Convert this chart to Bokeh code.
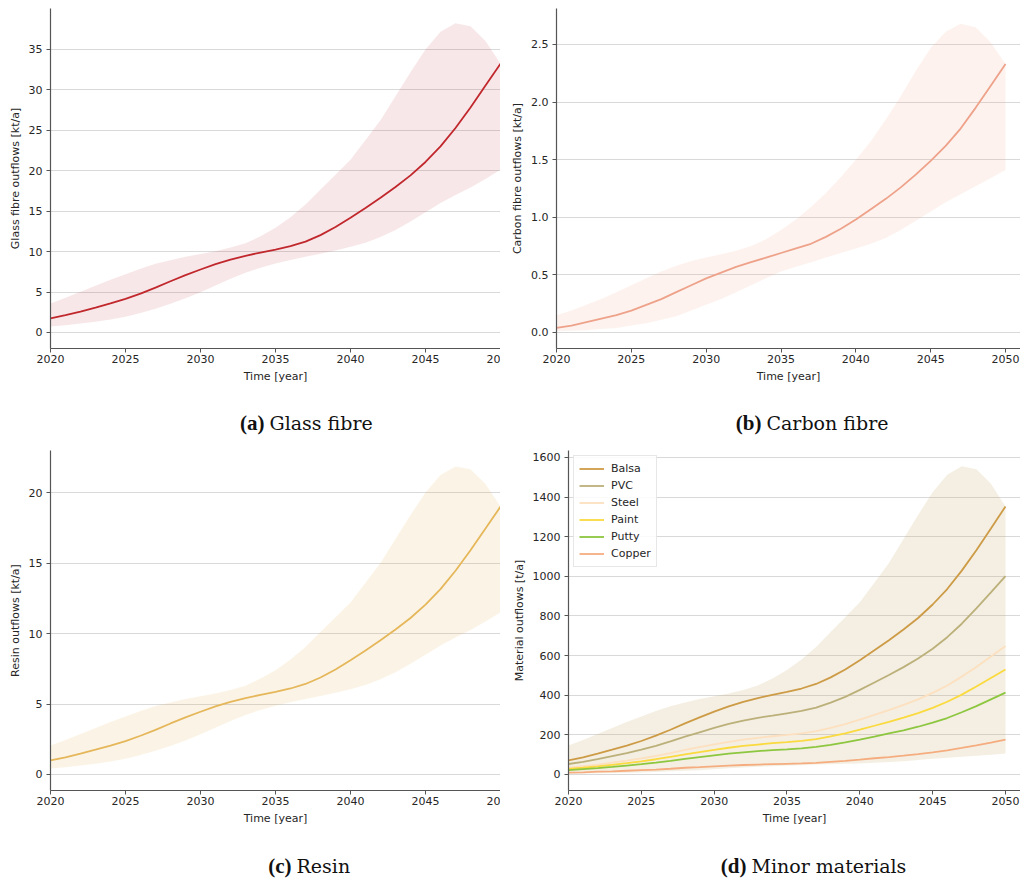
from bokeh.plotting import figure
from bokeh.layouts import column, row
from bokeh.models import Range1d, FixedTicker, PrintfTickFormatter
from bokeh.core.properties import value
from bokeh.embed import file_html
from bokeh.resources import INLINE

years = list(range(2020, 2051))
x_ticks = [2020, 2025, 2030, 2035, 2040, 2045, 2050]

# (a) Glass fibre [kt/a]
glass = [1.75, 2.14, 2.59, 3.08, 3.59, 4.15, 4.81, 5.55, 6.34, 7.09, 7.79, 8.45, 9.01, 9.49, 9.89,
         10.26, 10.68, 11.24, 12.04, 13.04, 14.18, 15.40, 16.66, 17.99, 19.43, 21.09, 23.01, 25.29,
         27.83, 30.54, 33.25]
glass_hi = [3.59, 4.29, 5.04, 5.78, 6.51, 7.21, 7.88, 8.49, 8.93, 9.36, 9.71, 10.06, 10.50, 11.03,
            11.90, 12.95, 14.26, 15.84, 17.68, 19.51, 21.35, 23.80, 26.25, 29.23, 32.20, 35.00,
            37.19, 38.24, 37.89, 36.05, 33.25]
glass_lo = [0.74, 0.91, 1.10, 1.33, 1.61, 1.96, 2.42, 2.94, 3.54, 4.24, 4.99, 5.81, 6.65, 7.39, 8.02,
            8.54, 8.96, 9.36, 9.75, 10.15, 10.59, 11.11, 11.81, 12.69, 13.74, 14.88, 16.01, 17.01,
            17.94, 18.99, 20.13]

# (b) Carbon fibre [kt/a]
carbon = [0.04, 0.06, 0.09, 0.12, 0.15, 0.19, 0.24, 0.29, 0.35, 0.41, 0.47, 0.52, 0.57, 0.61, 0.65,
          0.69, 0.73, 0.77, 0.83, 0.90, 0.98, 1.07, 1.16, 1.26, 1.37, 1.49, 1.62, 1.77, 1.95, 2.14, 2.33]
carbon_hi = [0.15, 0.19, 0.24, 0.29, 0.35, 0.41, 0.47, 0.53, 0.58, 0.62, 0.65, 0.68, 0.71, 0.75, 0.81,
             0.89, 0.98, 1.09, 1.21, 1.35, 1.50, 1.66, 1.85, 2.05, 2.27, 2.47, 2.61, 2.68, 2.65, 2.52, 2.33]
carbon_lo = [0.01, 0.015, 0.02, 0.03, 0.04, 0.06, 0.08, 0.11, 0.14, 0.19, 0.24, 0.29, 0.35, 0.41, 0.47,
             0.53, 0.57, 0.61, 0.65, 0.69, 0.73, 0.77, 0.82, 0.89, 0.97, 1.05, 1.13, 1.20, 1.27, 1.34, 1.41]

# (c) Resin [kt/a]
resin = [1.00, 1.22, 1.48, 1.76, 2.05, 2.37, 2.75, 3.17, 3.62, 4.05, 4.45, 4.83, 5.15, 5.42, 5.65,
         5.86, 6.10, 6.42, 6.88, 7.45, 8.10, 8.80, 9.52, 10.28, 11.10, 12.05, 13.15, 14.45, 15.90,
         17.45, 19.00]
resin_hi = [2.05, 2.45, 2.88, 3.30, 3.72, 4.12, 4.50, 4.85, 5.10, 5.35, 5.55, 5.75, 6.00, 6.30, 6.80,
            7.40, 8.15, 9.05, 10.10, 11.15, 12.20, 13.60, 15.00, 16.70, 18.40, 20.00, 21.25, 21.85,
            21.65, 20.60, 19.00]
resin_lo = [0.42, 0.52, 0.63, 0.76, 0.92, 1.12, 1.38, 1.68, 2.02, 2.42, 2.85, 3.32, 3.80, 4.22, 4.58,
            4.88, 5.12, 5.35, 5.57, 5.80, 6.05, 6.35, 6.75, 7.25, 7.85, 8.50, 9.15, 9.72, 10.25,
            10.85, 11.50]

# (d) Minor materials [t/a]
materials = ["Balsa", "PVC", "Steel", "Paint", "Putty", "Copper"]
balsa = [71, 87, 105, 125, 146, 169, 196, 226, 258, 288, 317, 344, 367, 386, 402, 417, 434, 457, 490,
         530, 577, 627, 678, 732, 790, 858, 936, 1029, 1132, 1242, 1353]
pvc = [53, 64, 78, 93, 108, 125, 145, 167, 191, 213, 235, 255, 272, 286, 297, 309, 321, 338, 363, 392,
       427, 464, 502, 542, 585, 635, 693, 761, 838, 919, 1001]
steel = [34, 42, 50, 60, 70, 81, 94, 108, 124, 138, 152, 165, 176, 185, 193, 200, 208, 219, 235, 254,
         277, 301, 325, 351, 379, 412, 449, 494, 543, 596, 649]
paint = [28, 34, 41, 49, 57, 66, 77, 89, 101, 113, 124, 135, 144, 151, 158, 163, 170, 179, 192, 208,
         226, 246, 266, 287, 310, 336, 367, 403, 444, 487, 530]
putty = [22, 27, 32, 38, 45, 52, 60, 69, 79, 88, 97, 105, 112, 118, 123, 127, 132, 139, 149, 162, 176,
         191, 207, 223, 241, 262, 285, 314, 345, 379, 413]
copper = [9, 11, 14, 16, 19, 22, 25, 29, 34, 37, 41, 45, 48, 50, 52, 54, 56, 59, 64, 69, 75, 82, 88,
          95, 103, 112, 122, 134, 147, 161, 176]
minor_hi = [146, 174, 205, 235, 265, 293, 320, 345, 363, 381, 395, 409, 427, 449, 484, 527, 580, 644,
            719, 794, 869, 968, 1068, 1189, 1310, 1424, 1513, 1556, 1541, 1467, 1353]
minor_lo = [4, 5, 6, 7, 9, 10, 13, 16, 19, 22, 26, 31, 35, 39, 42, 45, 47, 50, 52, 54, 56, 59, 63, 67,
            73, 79, 85, 90, 95, 100, 106]
minor_series = [balsa, pvc, steel, paint, putty, copper]
minor_colors = ["#cd9b46", "#bcb07a", "#fde0bf", "#fada3e", "#8dc63f", "#f5ad80"]

AX = "#555555"
TXT = "#262626"


def make_fig(width, height, left, top, x_end, y_range, ylabel, yticks, fmt=None, cut_last=False):
    p = figure(width=width, height=height, x_range=Range1d(2020, x_end), y_range=Range1d(*y_range),
               toolbar_location=None, output_backend="svg",
               min_border_left=left, min_border_right=0, min_border_top=top, min_border_bottom=47)
    p.outline_line_color = None
    p.background_fill_color = "white"
    p.border_fill_color = "white"
    p.xaxis.ticker = FixedTicker(ticks=x_ticks)
    p.yaxis.ticker = FixedTicker(ticks=yticks)
    if cut_last:
        p.xaxis.major_label_overrides = {2050: "20"}
    if fmt:
        p.yaxis.formatter = PrintfTickFormatter(format=fmt)
    p.xaxis.axis_label = "Time [year]"
    p.yaxis.axis_label = ylabel
    for ax in (p.xaxis, p.yaxis):
        ax.axis_line_color = AX
        ax.axis_line_width = 1.2
        ax.major_tick_line_color = AX
        ax.major_tick_out = 4
        ax.major_tick_in = 0
        ax.minor_tick_line_color = None
        ax.major_label_text_font = "DejaVu Sans"
        ax.major_label_text_font_size = "11px"
        ax.major_label_text_color = TXT
        ax.axis_label_text_font = "DejaVu Sans"
        ax.axis_label_text_font_size = "11px"
        ax.axis_label_text_font_style = "normal"
        ax.axis_label_text_color = TXT
    p.xaxis.major_label_standoff = 2
    p.xaxis.axis_label_standoff = 4
    p.yaxis.major_label_standoff = 4
    p.yaxis.axis_label_standoff = 4
    p.xgrid.visible = False
    p.ygrid.grid_line_color = "#d9d9d9"
    p.ygrid.grid_line_width = 1
    return p


fa = make_fig(500, 395, 50, 8, 2050, (-1.98, 40.07), "Glass fibre outflows [kt/a]",
              [0, 5, 10, 15, 20, 25, 30, 35], cut_last=True)
fa.varea(x=years, y1=glass_lo, y2=glass_hi, fill_color="#c0282d", fill_alpha=0.11)
fa.line(years, glass, line_color="#c0282d", line_width=1.8)

fb = make_fig(520, 395, 56, 8, 2051.0, (-0.139, 2.8125), "Carbon fibre outflows [kt/a]",
              [0, 0.5, 1.0, 1.5, 2.0, 2.5], fmt="%.1f")
fb.varea(x=years, y1=carbon_lo, y2=carbon_hi, fill_color="#eea28a", fill_alpha=0.14)
fb.line(years, carbon, line_color="#eea28a", line_width=1.8)

fc = make_fig(500, 387, 50, 0, 2050, (-1.135, 22.98), "Resin outflows [kt/a]",
              [0, 5, 10, 15, 20], cut_last=True)
fc.varea(x=years, y1=resin_lo, y2=resin_hi, fill_color="#e5b75a", fill_alpha=0.15)
fc.line(years, resin, line_color="#e5b75a", line_width=1.8)

fd = make_fig(520, 387, 68, 0, 2051.03, (-80.8, 1635.3), "Material outflows [t/a]",
              [0, 200, 400, 600, 800, 1000, 1200, 1400, 1600])
fd.varea(x=years, y1=minor_lo, y2=minor_hi, fill_color="#c9ad6e", fill_alpha=0.2)
for name, ys, col in zip(materials, minor_series, minor_colors):
    fd.line(years, ys, line_color=col, line_width=1.8, legend_label=name)
lg = fd.legend[0]
lg.location = "top_left"
lg.margin = 5
lg.padding = 5
lg.spacing = 2
lg.glyph_height = 15
lg.label_height = 15
lg.glyph_width = 25
lg.label_standoff = 7
lg.label_text_font = "DejaVu Sans"
lg.label_text_font_size = "11px"
lg.label_text_color = TXT
lg.border_line_color = "#d0d0d0"
lg.border_line_width = 1
lg.background_fill_alpha = 0.85


def caption(width, height, items):
    c = figure(width=width, height=height, x_range=Range1d(0, width), y_range=Range1d(0, height),
               toolbar_location=None, output_backend="svg", x_axis_location=None,
               y_axis_location=None, min_border=0)
    c.grid.visible = False
    c.outline_line_color = None
    for xs, y, lab, txt in items:
        c.text(x=[xs - 3], y=[y], text=[lab], text_font=value("Liberation Serif"),
               text_font_style="bold", text_font_size="21px", text_align="right",
               text_baseline="middle", text_color="#111111")
        c.text(x=[xs + 2], y=[y], text=[txt], text_font=value("DejaVu Serif"),
               text_font_size="19px", text_align="left", text_baseline="middle",
               text_color="#111111")
    return c


cap1 = caption(1020, 55, [(267, 28, "(a)", "Glass fibre"), (764, 28, "(b)", "Carbon fibre")])
cap2 = caption(1020, 42, [(294, 14, "(c)", "Resin"), (749, 14, "(d)", "Minor materials")])

layout = column(row(fa, fb), cap1, row(fc, fd), cap2)
open("out.html", "w").write(file_html(layout, INLINE))
